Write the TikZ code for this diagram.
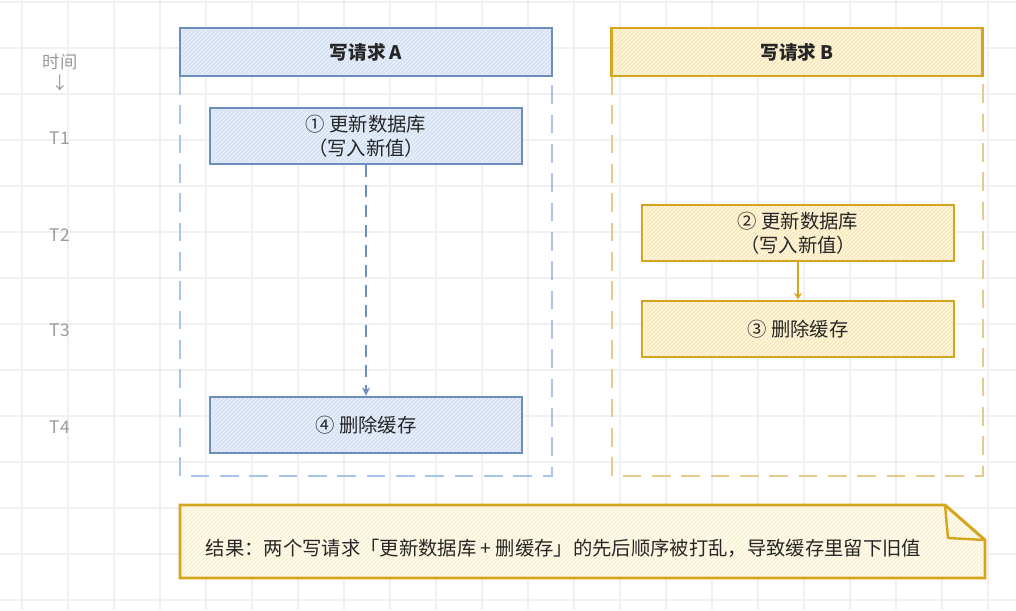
\documentclass[tikz,border=0pt]{standalone}
\usepackage{fontspec}
\setmainfont{Noto Sans CJK SC}
\usetikzlibrary{positioning,patterns,arrows.meta}
\definecolor{blueline}{HTML}{6C8EBF}
\definecolor{bluefill}{HTML}{E3EDFB}
\definecolor{bluedash}{HTML}{A9C4EB}
\definecolor{goldline}{HTML}{D6A51E}
\definecolor{goldfill}{HTML}{FFF4D6}
\definecolor{golddash}{HTML}{E8C98A}
\definecolor{notefill}{HTML}{FFFBEA}
\tikzset{hatch/.style 2 args={preaction={fill=#1},pattern=north east lines,pattern color=#2}}
\begin{document}
\begin{tikzpicture}[x=0.75pt,y=-0.75pt,
    stepA/.style={draw=blueline,line width=2.2pt,hatch={bluefill}{blueline!35},minimum width=234pt,minimum height=42pt,align=center,font=\fontsize{14.5}{18}\selectfont,text=black!85},
    stepB/.style={stepA,draw=goldline,hatch={goldfill}{goldline!35}},
    time/.style={text=black!40,font=\fontsize{13}{15}\selectfont}]
    % background grid
    \useasboundingbox (0,0) rectangle (1016,610);
    \foreach \x in {22,68,...,1016} \draw[black!6,line width=0.8pt] (\x,0) -- (\x,610);
    \foreach \y in {2,48,...,610} \draw[black!6,line width=0.8pt] (0,\y) -- (1016,\y);
    % lanes
    \draw[bluedash,line width=2.2pt,dash pattern=on 14pt off 8pt] (180,76) rectangle (552,476);
    \draw[golddash,line width=2.2pt,dash pattern=on 14pt off 8pt] (612,76) rectangle (983,476);
    \node[stepA,minimum width=279pt,minimum height=36pt,font=\bfseries\fontsize{14}{17}\selectfont] (headA) at (366,52) {写请求 A};
    \node[stepB,minimum width=278pt,minimum height=36pt,font=\bfseries\fontsize{14}{17}\selectfont] (headB) at (797,52) {写请求 B};
    % steps
    \node[stepA] (s1) at (366,136) {① 更新数据库\\（写入新值）};
    \node[stepA] (s4) at (366,425) {④ 删除缓存};
    \node[stepB] (s2) at (798,233) {② 更新数据库\\（写入新值）};
    \node[stepB] (s3) at (798,329) {③ 删除缓存};
    \draw[blueline,line width=2.2pt,dash pattern=on 9pt off 6pt,-{Stealth[open,length=6pt,width=6pt]}] (s1) -- (s4);
    \draw[goldline,line width=2.2pt,-{Stealth[open,length=5pt,width=6pt]}] (s2) -- (s3);
    % time axis
    \node[time] (tt) at (60,62) {时间};
    \node[time,below=-3pt of tt] (ta) {↓};
    \node[time] (t1) at (60,138) {T1};
    \node[time] (t2) at (60,235) {T2};
    \node[time] (t3) at (60,330) {T3};
    \node[time] (t4) at (60,427) {T4};
    % result note
    \draw[goldline,line width=2.2pt,hatch={notefill}{goldline!25}] (180,505) -- (945,505) -- (985,540) -- (985,578) -- (180,578) -- cycle;
    \draw[goldline,line width=1.8pt] (945,505) -- (948,538) -- (985,540);
    \node[anchor=west,text=black!85,font=\fontsize{14.5}{18}\selectfont] (res) at (201,548) {结果：两个写请求「更新数据库 + 删缓存」的先后顺序被打乱，导致缓存里留下旧值};
\end{tikzpicture}
\end{document}
